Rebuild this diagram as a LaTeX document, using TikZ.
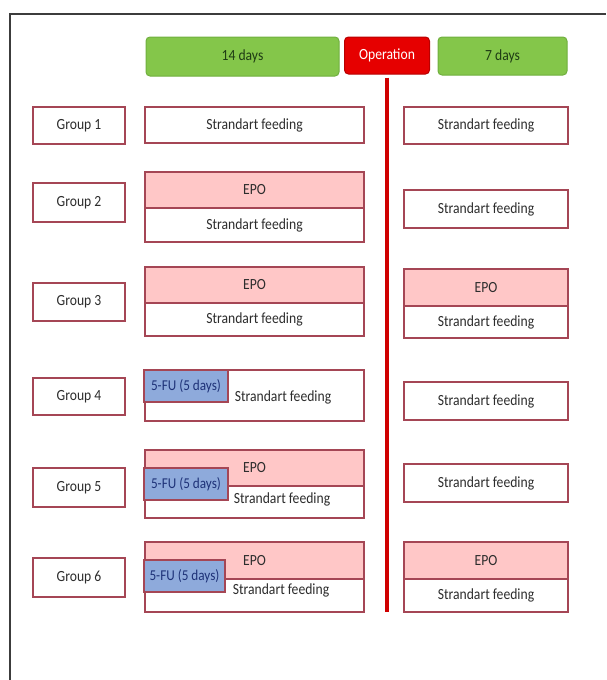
\documentclass[tikz,border=0pt]{standalone}
\usepackage{fontspec}
\setmainfont{Carlito}[FakeStretch=0.88]
\usepackage{tikz}

\definecolor{cellline}{RGB}{165,70,85}
\definecolor{celltext}{RGB}{45,45,45}
\definecolor{epopink}{RGB}{255,199,199}
\definecolor{fublue}{RGB}{142,170,219}
\definecolor{futext}{RGB}{30,50,120}
\definecolor{headgreen}{RGB}{132,198,74}
\definecolor{headline}{RGB}{112,175,62}
\definecolor{headtext}{RGB}{30,60,20}
\definecolor{opred}{RGB}{230,0,0}
\definecolor{frameline}{RGB}{60,60,60}

\tikzset{
  cell/.style={draw=cellline, line width=1.5pt, fill=white, inner sep=0pt,
    text=celltext, font=\fontsize{15.5}{17}\selectfont},
  epocell/.style={cell, fill=epopink},
  fucell/.style={cell, fill=fublue, text=futext, font=\fontsize{15}{17}\selectfont},
  label/.style={inner sep=0pt, text=celltext, font=\fontsize{15.5}{17}\selectfont},
  headbox/.style={rounded corners=4pt, fill=headgreen, draw=headline, line width=1pt,
    inner sep=0pt, text=headtext, font=\fontsize{15.5}{17}\selectfont},
  opbox/.style={headbox, fill=opred, draw=opred!80!black, text=white},
}

\begin{document}
\begin{tikzpicture}[x=1pt,y=-1pt]
\useasboundingbox (0,0) rectangle (606,680);
\draw[frameline, line width=1.5pt] (10,680) -- (10,14) -- (606,14);

% header
\node[headbox, minimum width=193, minimum height=39] (d14) at (242.5,56.5) {14 days};
\node[opbox, minimum width=85, minimum height=37] (op) at (387,55.5) {Operation};
\node[headbox, minimum width=129, minimum height=38] (d7) at (502.5,56) {7 days};
\coordinate (opend) at (387,612);
\draw[opred!90!black, line width=4.5pt] ([yshift=-3pt]op.south) -- (opend);

% groups
\node[cell, minimum width=92, minimum height=37] (g1) at (79,125.5) {Group 1};
\node[cell, minimum width=92, minimum height=39] (g2) at (79,202.5) {Group 2};
\node[cell, minimum width=92, minimum height=38] (g3) at (79,302) {Group 3};
\node[cell, minimum width=92, minimum height=37] (g4) at (79,396.5) {Group 4};
\node[cell, minimum width=92, minimum height=39] (g5) at (79,487.5) {Group 5};
\node[cell, minimum width=92, minimum height=39] (g6) at (79,577.5) {Group 6};

% before operation
\node[cell, minimum width=219, minimum height=36] (b1) at (254.5,125) {Strandart feeding};

\node[epocell, minimum width=219, minimum height=36] (b2e) at (254.5,190) {EPO};
\node[cell, minimum width=219, minimum height=34] (b2) at (254.5,225) {Strandart feeding};

\node[epocell, minimum width=219, minimum height=36] (b3e) at (254.5,285) {EPO};
\node[cell, minimum width=219, minimum height=33] (b3) at (254.5,319.5) {Strandart feeding};

\node[cell, minimum width=219, minimum height=51] (b4) at (254.5,395.5) {};
\node[fucell, minimum width=84, minimum height=32] (b4f) at (186,386) {5-FU (5 days)};
\node[label] (b4t) at (283,397) {Strandart feeding};

\node[epocell, minimum width=219, minimum height=36] (b5e) at (254.5,468) {EPO};
\node[cell, minimum width=219, minimum height=32] (b5) at (254.5,502) {};
\node[fucell, minimum width=84, minimum height=32] (b5f) at (186,484) {5-FU (5 days)};
\node[label] (b5t) at (282,499) {Strandart feeding};

\node[epocell, minimum width=219, minimum height=37] (b6e) at (254.5,560.5) {EPO};
\node[cell, minimum width=219, minimum height=33] (b6) at (254.5,595.5) {};
\node[fucell, minimum width=81, minimum height=32] (b6f) at (184.5,576) {5-FU (5 days)};
\node[label] (b6t) at (281,590) {Strandart feeding};

% after operation
\node[cell, minimum width=164, minimum height=37] (a1) at (486,125.5) {Strandart feeding};
\node[cell, minimum width=164, minimum height=38] (a2) at (486,209) {Strandart feeding};
\node[epocell, minimum width=164, minimum height=37] (a3e) at (486,287.5) {EPO};
\node[cell, minimum width=164, minimum height=32] (a3) at (486,322) {Strandart feeding};
\node[cell, minimum width=164, minimum height=38] (a4) at (486,401) {Strandart feeding};
\node[cell, minimum width=164, minimum height=38] (a5) at (486,483) {Strandart feeding};
\node[epocell, minimum width=164, minimum height=37] (a6e) at (486,560.5) {EPO};
\node[cell, minimum width=164, minimum height=33] (a6) at (486,595.5) {Strandart feeding};
\end{tikzpicture}
\end{document}
